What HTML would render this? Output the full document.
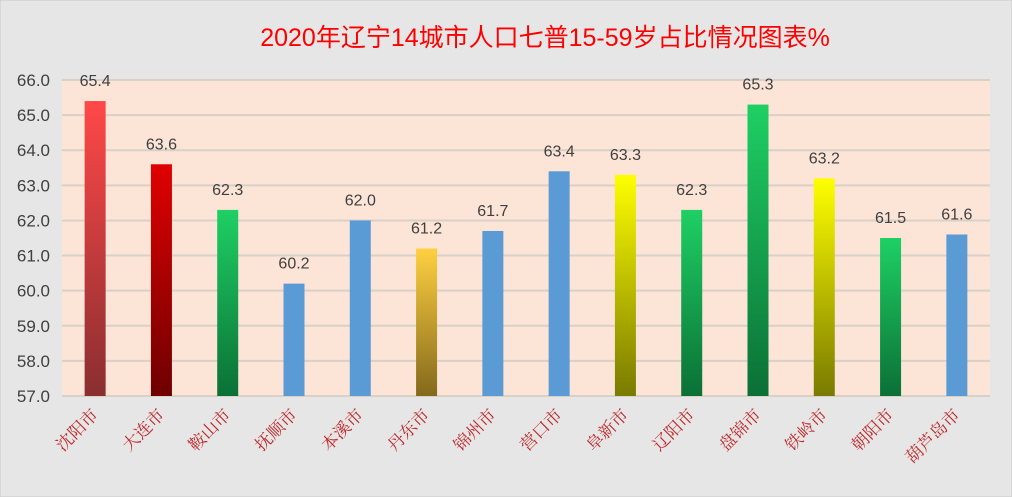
<!DOCTYPE html>
<html><head><meta charset="utf-8"><style>body{margin:0;background:#e6e6e6}svg{display:block}</style></head>
<body>
<svg width="1012" height="497" viewBox="0 0 1012 497">
<defs>
<linearGradient id="gRed" x1="0" y1="0" x2="0" y2="1"><stop offset="0" stop-color="#ff4848"/><stop offset="1" stop-color="#8a2e30"/></linearGradient>
<linearGradient id="gDark" x1="0" y1="0" x2="0" y2="1"><stop offset="0" stop-color="#e00000"/><stop offset="1" stop-color="#6e0000"/></linearGradient>
<linearGradient id="gGreen" x1="0" y1="0" x2="0" y2="1"><stop offset="0" stop-color="#1ed064"/><stop offset="1" stop-color="#0b7036"/></linearGradient>
<linearGradient id="gBlue" x1="0" y1="0" x2="0" y2="1"><stop offset="0" stop-color="#5b9bd5"/><stop offset="1" stop-color="#5b9bd5"/></linearGradient>
<linearGradient id="gGold" x1="0" y1="0" x2="0" y2="1"><stop offset="0" stop-color="#ffd040"/><stop offset="1" stop-color="#84691c"/></linearGradient>
<linearGradient id="gYellow" x1="0" y1="0" x2="0" y2="1"><stop offset="0" stop-color="#ffff00"/><stop offset="1" stop-color="#7a7a00"/></linearGradient>
</defs>
<rect x="0" y="0" width="1012" height="497" fill="#e6e6e6" stroke="#c8c8c8"/>
<text x="545" y="46" text-anchor="middle" font-family="Liberation Sans, Noto Sans CJK SC, sans-serif" font-size="25" fill="#ff0000">2020年辽宁14城市人口七普15-59岁占比情况图表%</text>
<rect x="62" y="80" width="928" height="316" fill="#fce4d6"/>
<g id="grid"></g><g id="bars"></g><g id="labels"></g>
</svg>
<script>
const categories=["沈阳市","大连市","鞍山市","抚顺市","本溪市","丹东市","锦州市","营口市","阜新市","辽阳市","盘锦市","铁岭市","朝阳市","葫芦岛市"];
const values=[65.4,63.6,62.3,60.2,62.0,61.2,61.7,63.4,63.3,62.3,65.3,63.2,61.5,61.6];
const fills=["gRed","gDark","gGreen","gBlue","gBlue","gGold","gBlue","gBlue","gYellow","gGreen","gGreen","gYellow","gGreen","gBlue"];
const ticks=[57,58,59,60,61,62,63,64,65,66];
const ns="http://www.w3.org/2000/svg";
const X0=62,W=928,Y0=396,Y1=80,MIN=57,MAX=66;
const y=v=>Y0-(v-MIN)/(MAX-MIN)*(Y0-Y1);
const step=W/categories.length;
const x=i=>X0+step*(i+0.5);
function mk(t,a,p){const e=document.createElementNS(ns,t);for(const k in a)e.setAttribute(k,a[k]);p.appendChild(e);return e;}
const grid=document.getElementById('grid'),bars=document.getElementById('bars'),labels=document.getElementById('labels');
ticks.forEach(t=>{
 const l=mk('line',{x1:X0,x2:X0+W,y1:y(t),y2:y(t),stroke:'#d9d0c8','stroke-width':2},grid);
 
 
 const tx=mk('text',{x:50,y:y(t)+6,'text-anchor':'end','font-family':'Liberation Sans, sans-serif','font-size':17,fill:'#404040'},grid);
 tx.textContent=t.toFixed(1);
 
 
});
values.forEach((v,i)=>{
 const r=mk('rect',{x:x(i)-10.5,y:y(v),width:21,height:Y0-y(v),fill:'url(#'+fills[i]+')'},bars);
 
 
 const t=mk('text',{x:x(i),y:y(v)-15,'text-anchor':'middle','font-family':'Liberation Sans, sans-serif','font-size':16,fill:'#404040'},labels);
 t.textContent=v.toFixed(1);
 
 
 const c=mk('text',{x:x(i)+4,y:416,'text-anchor':'end','font-family':'Noto Serif CJK SC, serif','font-size':17,fill:'#c0282a',transform:'rotate(-45 '+(x(i)+4)+' 416)'},labels);
 c.textContent=categories[i];
 
 
});
</script>
</body></html>
